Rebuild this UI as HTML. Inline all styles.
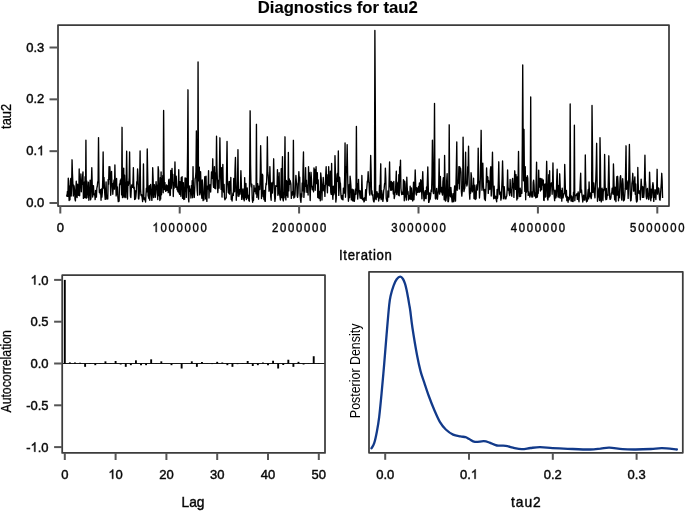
<!DOCTYPE html>
<html><head><meta charset="utf-8"><title>Diagnostics for tau2</title>
<style>html,body{margin:0;padding:0;background:#fff;width:685px;height:511px;overflow:hidden}
svg{display:block;will-change:transform}text{font-family:"Liberation Sans", sans-serif;stroke:#111;stroke-width:0.45px}.h1{fill-opacity:0;stroke-opacity:0}.one{fill:#111;stroke:#111;stroke-width:0.45px;vector-effect:non-scaling-stroke}</style></head>
<body>
<svg width="685" height="511" viewBox="0 0 685 511" font-family='"Liberation Sans", sans-serif'>
<rect width="685" height="511" fill="#fff"/>
<text style="stroke-width:0.15px" x="337.80" y="13.20" font-size="16" text-anchor="middle" fill="#000" font-weight="bold" textLength="160.00" lengthAdjust="spacingAndGlyphs">Diagnostics for tau2</text>
<polyline points="66.60,194.60 67.02,196.26 67.44,191.35 67.86,196.28 68.28,178.15 68.70,188.86 69.12,200.50 69.54,186.29 69.96,199.75 70.38,180.98 70.80,178.33 71.22,196.02 71.64,184.90 72.06,159.80 72.48,173.98 72.90,184.02 73.32,196.06 73.74,185.22 74.16,186.43 74.58,191.12 75.00,199.28 75.42,200.86 75.84,190.08 76.26,181.21 76.68,196.24 77.10,197.59 77.52,184.17 77.94,188.56 78.36,195.30 78.78,193.04 79.20,168.96 79.62,195.77 80.04,182.27 80.46,186.21 80.88,173.94 81.30,191.79 81.72,182.30 82.14,184.34 82.56,176.87 82.98,171.88 83.40,198.41 83.82,188.22 84.24,182.28 84.66,197.66 85.08,176.75 85.50,197.55 85.92,140.20 86.34,198.16 86.76,181.01 87.18,189.75 87.60,191.74 88.02,197.60 88.44,182.26 88.86,200.25 89.28,188.54 89.70,195.55 90.12,180.09 90.54,199.72 90.96,198.03 91.38,182.71 91.80,167.70 92.22,184.02 92.64,196.98 93.06,187.88 93.48,185.70 93.90,194.76 94.32,193.80 94.74,193.94 95.16,199.59 95.58,190.31 96.00,192.26 96.42,197.13 96.84,188.18 97.26,186.52 97.68,182.11 98.10,180.77 98.52,137.60 98.94,180.38 99.36,192.39 99.78,189.86 100.20,193.94 100.62,189.66 101.04,200.27 101.46,188.87 101.88,197.11 102.30,192.82 102.72,180.72 103.14,152.00 103.56,188.10 103.98,177.39 104.40,187.25 104.82,194.68 105.24,199.42 105.66,192.23 106.08,181.90 106.50,197.50 106.92,199.14 107.34,195.16 107.76,198.91 108.18,179.37 108.60,184.20 109.02,166.70 109.44,179.41 109.86,166.72 110.28,176.00 110.70,195.24 111.12,186.85 111.54,171.33 111.96,185.66 112.38,183.47 112.80,194.27 113.22,187.71 113.64,183.33 114.06,180.01 114.48,189.19 114.90,165.00 115.32,185.46 115.74,182.13 116.16,195.89 116.58,178.41 117.00,194.22 117.42,186.85 117.84,196.73 118.26,201.65 118.68,197.66 119.10,201.12 119.52,183.93 119.94,184.60 120.36,180.21 120.78,183.28 121.20,178.78 121.62,194.93 122.04,127.30 122.46,197.52 122.88,195.50 123.30,180.81 123.72,168.09 124.14,197.59 124.56,175.26 124.98,189.67 125.40,196.02 125.82,197.46 126.24,177.19 126.66,151.20 127.08,183.57 127.50,198.97 127.92,182.00 128.34,185.28 128.76,183.13 129.18,177.67 129.60,152.00 130.02,182.91 130.44,196.19 130.86,197.57 131.28,189.26 131.70,184.84 132.12,186.91 132.54,187.36 132.96,182.80 133.38,167.58 133.80,188.53 134.22,187.26 134.64,199.46 135.06,190.67 135.48,198.95 135.90,196.36 136.32,191.42 136.74,181.75 137.16,183.87 137.58,169.00 138.00,175.86 138.42,198.38 138.84,199.01 139.26,193.77 139.68,178.98 140.10,151.00 140.52,189.04 140.94,194.87 141.36,195.84 141.78,194.80 142.20,198.25 142.62,201.56 143.04,194.46 143.46,164.00 143.88,198.33 144.30,199.69 144.72,197.96 145.14,199.17 145.56,201.99 145.98,194.61 146.40,188.15 146.82,191.82 147.24,149.00 147.66,172.62 148.08,195.63 148.50,196.98 148.92,198.46 149.34,185.78 149.76,200.29 150.18,192.97 150.60,184.52 151.02,190.14 151.44,193.84 151.86,200.38 152.28,192.26 152.70,167.70 153.12,179.17 153.54,197.54 153.96,188.98 154.38,184.66 154.80,190.51 155.22,197.39 155.64,193.07 156.06,181.66 156.48,188.14 156.90,185.10 157.32,193.60 157.74,199.55 158.16,166.72 158.58,170.70 159.00,195.76 159.42,186.56 159.84,200.50 160.26,177.64 160.68,199.05 161.10,172.04 161.52,194.80 161.94,179.53 162.36,183.84 162.78,175.47 163.20,192.83 163.62,110.50 164.04,171.81 164.46,189.49 164.88,182.36 165.30,188.73 165.72,191.34 166.14,190.55 166.56,184.86 166.98,190.28 167.40,186.65 167.82,185.82 168.24,192.67 168.66,180.19 169.08,179.16 169.50,190.16 169.92,195.46 170.34,195.14 170.76,170.46 171.18,188.57 171.60,185.02 172.02,168.50 172.44,178.26 172.86,174.49 173.28,196.54 173.70,182.58 174.12,188.27 174.54,181.01 174.96,162.00 175.38,183.93 175.80,187.34 176.22,176.24 176.64,183.82 177.06,189.73 177.48,187.16 177.90,191.69 178.32,191.96 178.74,169.67 179.16,192.94 179.58,194.25 180.00,181.78 180.42,184.01 180.84,196.31 181.26,177.60 181.68,187.71 182.10,176.57 182.52,198.27 182.94,195.87 183.36,182.63 183.78,199.47 184.20,197.99 184.62,199.12 185.04,177.97 185.46,191.13 185.88,178.14 186.30,197.42 186.72,189.34 187.14,186.52 187.56,152.59 187.98,89.80 188.40,197.42 188.82,201.86 189.24,185.84 189.66,191.11 190.08,191.32 190.50,189.22 190.92,198.01 191.34,185.56 191.76,194.91 192.18,180.57 192.60,197.70 193.02,166.60 193.44,190.26 193.86,191.56 194.28,197.45 194.70,188.80 195.12,178.81 195.54,177.54 195.96,171.62 196.38,130.90 196.80,182.53 197.22,190.92 197.64,195.30 198.06,61.90 198.48,180.88 198.90,169.50 199.32,167.08 199.74,194.78 200.16,192.62 200.58,171.79 201.00,185.04 201.42,192.03 201.84,198.31 202.26,179.86 202.68,187.82 203.10,200.68 203.52,198.70 203.94,199.76 204.36,184.90 204.78,176.70 205.20,186.92 205.62,198.87 206.04,176.14 206.46,197.38 206.88,201.38 207.30,186.23 207.72,189.09 208.14,185.78 208.56,170.68 208.98,198.07 209.40,184.62 209.82,189.41 210.24,184.98 210.66,192.08 211.08,182.39 211.50,171.85 211.92,178.44 212.34,175.47 212.76,158.80 213.18,183.67 213.60,187.34 214.02,181.59 214.44,166.72 214.86,188.44 215.28,173.15 215.70,188.77 216.12,174.14 216.54,136.20 216.96,167.78 217.38,179.41 217.80,192.66 218.22,186.38 218.64,180.08 219.06,188.13 219.48,166.72 219.90,137.80 220.32,166.72 220.74,178.87 221.16,189.35 221.58,167.72 222.00,197.11 222.42,182.24 222.84,164.40 223.26,186.11 223.68,192.12 224.10,184.43 224.52,197.62 224.94,199.83 225.36,198.71 225.78,198.36 226.20,197.73 226.62,168.70 227.04,141.50 227.46,181.02 227.88,186.07 228.30,192.52 228.72,193.03 229.14,181.34 229.56,194.14 229.98,181.76 230.40,189.78 230.82,177.39 231.24,199.56 231.66,198.11 232.08,200.98 232.50,196.31 232.92,193.05 233.34,195.38 233.76,178.42 234.18,180.83 234.60,191.71 235.02,169.12 235.44,157.50 235.86,179.78 236.28,200.25 236.70,191.58 237.12,196.06 237.54,180.04 237.96,149.70 238.38,189.43 238.80,196.41 239.22,194.03 239.64,189.38 240.06,194.13 240.48,184.80 240.90,170.70 241.32,182.97 241.74,199.39 242.16,190.38 242.58,196.91 243.00,188.85 243.42,199.12 243.84,196.86 244.26,200.83 244.68,177.60 245.10,197.54 245.52,195.51 245.94,183.51 246.36,199.50 246.78,192.30 247.20,187.98 247.62,196.04 248.04,198.49 248.46,195.54 248.88,200.67 249.30,201.16 249.72,168.81 250.14,110.80 250.56,164.49 250.98,183.96 251.40,186.85 251.82,184.11 252.24,198.59 252.66,202.29 253.08,198.71 253.50,200.32 253.92,185.47 254.34,189.17 254.76,191.58 255.18,189.03 255.60,187.86 256.02,193.85 256.44,124.30 256.86,197.44 257.28,189.42 257.70,183.75 258.12,190.41 258.54,199.14 258.96,186.06 259.38,189.69 259.80,189.20 260.22,175.25 260.64,145.60 261.06,166.42 261.48,198.53 261.90,191.18 262.32,174.17 262.74,175.23 263.16,196.47 263.58,195.37 264.00,199.55 264.42,190.32 264.84,201.02 265.26,201.36 265.68,187.45 266.10,183.27 266.52,184.54 266.94,171.77 267.36,136.80 267.78,172.21 268.20,175.42 268.62,181.76 269.04,191.20 269.46,186.36 269.88,166.60 270.30,181.81 270.72,196.69 271.14,200.29 271.56,182.92 271.98,193.14 272.40,193.09 272.82,182.29 273.24,181.53 273.66,158.80 274.08,181.27 274.50,194.60 274.92,201.44 275.34,198.18 275.76,185.73 276.18,186.24 276.60,186.24 277.02,186.11 277.44,169.70 277.86,195.36 278.28,177.34 278.70,193.92 279.12,172.73 279.54,194.11 279.96,196.40 280.38,200.04 280.80,195.01 281.22,168.74 281.64,197.64 282.06,177.89 282.48,156.60 282.90,199.43 283.32,200.92 283.74,192.42 284.16,197.82 284.58,171.43 285.00,136.80 285.42,192.25 285.84,199.90 286.26,180.39 286.68,195.58 287.10,181.32 287.52,193.91 287.94,197.33 288.36,152.50 288.78,190.91 289.20,178.63 289.62,184.29 290.04,180.32 290.46,181.83 290.88,184.21 291.30,198.42 291.72,193.42 292.14,195.40 292.56,191.38 292.98,194.00 293.40,140.30 293.82,198.00 294.24,194.68 294.66,197.07 295.08,194.22 295.50,183.06 295.92,175.40 296.34,182.08 296.76,183.51 297.18,195.88 297.60,197.34 298.02,193.29 298.44,180.43 298.86,171.60 299.28,179.80 299.70,177.10 300.12,196.02 300.54,200.22 300.96,202.25 301.38,193.56 301.80,196.94 302.22,182.96 302.64,190.90 303.06,168.37 303.48,151.90 303.90,197.37 304.32,190.27 304.74,192.19 305.16,182.20 305.58,167.60 306.00,186.32 306.42,180.12 306.84,192.23 307.26,186.37 307.68,184.95 308.10,194.97 308.52,166.72 308.94,180.91 309.36,172.63 309.78,190.00 310.20,200.59 310.62,182.76 311.04,172.30 311.46,179.05 311.88,186.65 312.30,189.75 312.72,186.58 313.14,186.15 313.56,191.84 313.98,167.87 314.40,170.70 314.82,169.54 315.24,190.26 315.66,172.72 316.08,166.72 316.50,183.56 316.92,178.23 317.34,172.74 317.76,197.54 318.18,179.82 318.60,194.61 319.02,198.52 319.44,195.61 319.86,191.08 320.28,200.72 320.70,172.86 321.12,177.00 321.54,183.60 321.96,200.01 322.38,184.10 322.80,190.31 323.22,177.42 323.64,185.70 324.06,191.04 324.48,185.94 324.90,196.39 325.32,184.80 325.74,174.50 326.16,166.72 326.58,184.06 327.00,185.02 327.42,192.76 327.84,174.80 328.26,185.53 328.68,166.72 329.10,184.98 329.52,178.38 329.94,186.23 330.36,171.14 330.78,192.34 331.20,194.43 331.62,163.50 332.04,189.61 332.46,193.97 332.88,199.25 333.30,186.10 333.72,194.76 334.14,193.23 334.56,192.15 334.98,155.60 335.40,171.74 335.82,202.08 336.24,198.73 336.66,181.06 337.08,174.59 337.50,173.26 337.92,181.55 338.34,151.00 338.76,195.41 339.18,189.46 339.60,177.23 340.02,182.11 340.44,183.40 340.86,193.94 341.28,197.72 341.70,199.08 342.12,195.35 342.54,199.26 342.96,199.88 343.38,188.25 343.80,190.11 344.22,193.18 344.64,178.23 345.06,143.00 345.48,197.20 345.90,186.48 346.32,166.72 346.74,166.06 347.16,144.60 347.58,172.82 348.00,192.21 348.42,201.25 348.84,197.09 349.26,184.43 349.68,197.54 350.10,176.22 350.52,180.62 350.94,186.04 351.36,199.90 351.78,190.12 352.20,189.16 352.62,200.83 353.04,198.40 353.46,189.80 353.88,201.09 354.30,201.38 354.72,198.09 355.14,191.66 355.56,188.95 355.98,194.20 356.40,126.40 356.82,190.24 357.24,183.35 357.66,199.10 358.08,193.78 358.50,179.38 358.92,191.51 359.34,190.43 359.76,194.54 360.18,198.06 360.60,190.81 361.02,197.35 361.44,198.68 361.86,175.40 362.28,190.15 362.70,199.74 363.12,199.35 363.54,198.26 363.96,201.90 364.38,201.19 364.80,197.31 365.22,197.73 365.64,189.65 366.06,200.40 366.48,191.80 366.90,186.64 367.32,181.24 367.74,180.72 368.16,171.70 368.58,182.25 369.00,182.48 369.42,192.56 369.84,195.10 370.26,175.98 370.68,155.40 371.10,171.05 371.52,194.05 371.94,190.68 372.36,195.34 372.78,194.62 373.20,199.34 373.62,201.28 374.04,201.98 374.46,198.94 374.88,30.50 375.30,104.70 375.72,198.78 376.14,199.65 376.56,194.83 376.98,191.74 377.40,196.95 377.82,193.35 378.24,195.88 378.66,201.00 379.08,197.96 379.50,185.49 379.92,197.95 380.34,178.24 380.76,163.80 381.18,199.65 381.60,190.34 382.02,193.31 382.44,196.91 382.86,201.42 383.28,198.36 383.70,190.53 384.12,188.67 384.54,183.94 384.96,182.69 385.38,168.10 385.80,177.96 386.22,198.32 386.64,200.04 387.06,201.46 387.48,201.12 387.90,190.96 388.32,193.42 388.74,197.11 389.16,178.68 389.58,162.00 390.00,184.40 390.42,187.06 390.84,190.42 391.26,181.54 391.68,189.98 392.10,182.39 392.52,182.84 392.94,188.37 393.36,193.96 393.78,181.45 394.20,198.56 394.62,196.48 395.04,192.88 395.46,192.02 395.88,181.81 396.30,171.24 396.72,194.48 397.14,182.21 397.56,185.82 397.98,190.15 398.40,195.17 398.82,174.68 399.24,195.77 399.66,166.72 400.08,173.38 400.50,160.10 400.92,188.28 401.34,192.26 401.76,194.58 402.18,192.40 402.60,192.03 403.02,194.22 403.44,179.56 403.86,181.70 404.28,200.76 404.70,181.11 405.12,183.91 405.54,196.52 405.96,197.74 406.38,200.06 406.80,177.20 407.22,187.29 407.64,194.07 408.06,191.61 408.48,200.04 408.90,195.62 409.32,198.86 409.74,198.89 410.16,186.27 410.58,191.97 411.00,199.42 411.42,187.91 411.84,193.44 412.26,198.99 412.68,200.96 413.10,195.74 413.52,182.12 413.94,199.72 414.36,192.25 414.78,186.72 415.20,170.00 415.62,183.03 416.04,193.79 416.46,195.05 416.88,187.63 417.30,189.93 417.72,192.24 418.14,191.17 418.56,186.50 418.98,192.32 419.40,183.02 419.82,192.02 420.24,191.74 420.66,179.79 421.08,180.84 421.50,187.78 421.92,198.73 422.34,181.69 422.76,171.70 423.18,185.75 423.60,194.74 424.02,200.78 424.44,198.25 424.86,192.47 425.28,190.76 425.70,198.54 426.12,198.64 426.54,186.96 426.96,194.43 427.38,180.23 427.80,167.00 428.22,184.65 428.64,202.37 429.06,202.19 429.48,192.89 429.90,199.83 430.32,198.53 430.74,195.07 431.16,189.87 431.58,191.38 432.00,175.29 432.42,140.20 432.84,166.66 433.26,192.87 433.68,193.57 434.10,165.24 434.52,103.50 434.94,185.09 435.36,198.53 435.78,198.92 436.20,196.51 436.62,188.40 437.04,196.61 437.46,199.20 437.88,194.12 438.30,191.04 438.72,184.87 439.14,159.00 439.56,194.06 439.98,191.37 440.40,176.43 440.82,189.12 441.24,191.99 441.66,187.49 442.08,193.06 442.50,195.09 442.92,181.90 443.34,177.70 443.76,188.61 444.18,199.79 444.60,155.50 445.02,180.91 445.44,201.01 445.86,200.55 446.28,197.71 446.70,180.42 447.12,173.60 447.54,191.87 447.96,201.68 448.38,201.64 448.80,198.27 449.22,124.80 449.64,192.19 450.06,195.50 450.48,196.80 450.90,187.47 451.32,193.01 451.74,198.55 452.16,201.85 452.58,201.77 453.00,193.56 453.42,200.80 453.84,201.74 454.26,191.08 454.68,185.85 455.10,196.72 455.52,201.09 455.94,185.84 456.36,166.67 456.78,142.00 457.20,190.27 457.62,180.20 458.04,183.41 458.46,181.80 458.88,166.72 459.30,189.01 459.72,166.72 460.14,172.70 460.56,168.21 460.98,172.39 461.40,191.49 461.82,196.16 462.24,191.40 462.66,186.65 463.08,137.10 463.50,166.38 463.92,191.56 464.34,189.61 464.76,188.15 465.18,183.37 465.60,152.20 466.02,183.19 466.44,181.76 466.86,185.96 467.28,184.00 467.70,166.72 468.12,168.49 468.54,146.20 468.96,175.85 469.38,192.38 469.80,199.19 470.22,188.20 470.64,193.35 471.06,172.74 471.48,176.30 471.90,190.10 472.32,191.84 472.74,185.65 473.16,190.62 473.58,178.29 474.00,198.60 474.42,194.50 474.84,185.19 475.26,199.56 475.68,192.53 476.10,198.72 476.52,187.23 476.94,184.74 477.36,190.01 477.78,180.16 478.20,148.10 478.62,180.11 479.04,182.06 479.46,197.99 479.88,191.58 480.30,179.18 480.72,159.47 481.14,130.30 481.56,169.92 481.98,190.23 482.40,181.94 482.82,163.20 483.24,181.87 483.66,190.40 484.08,191.81 484.50,199.11 484.92,189.40 485.34,200.57 485.76,193.06 486.18,184.99 486.60,168.00 487.02,182.06 487.44,176.46 487.86,177.34 488.28,193.44 488.70,180.76 489.12,189.58 489.54,187.37 489.96,189.10 490.38,170.16 490.80,166.72 491.22,196.09 491.64,187.58 492.06,170.92 492.48,152.20 492.90,179.10 493.32,194.70 493.74,198.73 494.16,186.22 494.58,197.48 495.00,198.25 495.42,196.14 495.84,197.27 496.26,199.82 496.68,201.73 497.10,189.38 497.52,198.23 497.94,193.94 498.36,179.93 498.78,161.80 499.20,184.46 499.62,194.08 500.04,194.73 500.46,192.23 500.88,200.12 501.30,198.21 501.72,188.31 502.14,178.50 502.56,161.00 502.98,177.12 503.40,198.71 503.82,195.25 504.24,186.69 504.66,193.59 505.08,198.88 505.50,198.11 505.92,198.84 506.34,196.55 506.76,196.14 507.18,189.31 507.60,170.00 508.02,186.61 508.44,190.24 508.86,188.90 509.28,193.62 509.70,195.47 510.12,179.53 510.54,188.40 510.96,192.13 511.38,193.18 511.80,196.28 512.22,180.62 512.64,178.42 513.06,187.91 513.48,183.69 513.90,197.41 514.32,182.47 514.74,170.80 515.16,177.34 515.58,189.41 516.00,174.56 516.42,187.39 516.84,199.98 517.26,176.93 517.68,198.54 518.10,178.92 518.52,151.50 518.94,186.99 519.36,196.59 519.78,192.51 520.20,188.23 520.62,196.45 521.04,191.00 521.46,189.96 521.88,193.28 522.30,144.80 522.72,65.00 523.14,139.80 523.56,180.83 523.98,129.30 524.40,175.89 524.82,191.38 525.24,166.72 525.66,199.78 526.08,177.32 526.50,192.20 526.92,190.14 527.34,175.79 527.76,178.34 528.18,195.40 528.60,191.71 529.02,194.20 529.44,194.71 529.86,197.18 530.28,194.88 530.70,97.00 531.12,193.76 531.54,195.35 531.96,197.09 532.38,191.68 532.80,196.81 533.22,182.28 533.64,180.20 534.06,185.18 534.48,195.28 534.90,196.30 535.32,192.77 535.74,197.86 536.16,180.12 536.58,162.20 537.00,197.39 537.42,196.47 537.84,191.27 538.26,193.25 538.68,170.12 539.10,186.56 539.52,187.05 539.94,178.50 540.36,190.99 540.78,178.45 541.20,185.20 541.62,189.72 542.04,178.88 542.46,185.15 542.88,180.84 543.30,180.03 543.72,200.17 544.14,200.47 544.56,185.07 544.98,183.87 545.40,197.06 545.82,196.36 546.24,181.99 546.66,161.30 547.08,178.74 547.50,198.50 547.92,199.97 548.34,194.18 548.76,174.80 549.18,197.07 549.60,170.68 550.02,195.88 550.44,186.12 550.86,185.39 551.28,182.94 551.70,183.03 552.12,194.33 552.54,183.71 552.96,162.90 553.38,186.59 553.80,191.02 554.22,196.31 554.64,200.61 555.06,190.25 555.48,196.12 555.90,197.95 556.32,195.65 556.74,179.46 557.16,169.10 557.58,186.16 558.00,196.99 558.42,189.00 558.84,185.51 559.26,197.80 559.68,173.80 560.10,183.93 560.52,194.66 560.94,198.25 561.36,190.79 561.78,201.16 562.20,188.13 562.62,194.68 563.04,197.80 563.46,195.19 563.88,193.78 564.30,193.10 564.72,164.40 565.14,179.51 565.56,195.45 565.98,197.17 566.40,190.34 566.82,200.64 567.24,196.35 567.66,198.02 568.08,202.22 568.50,197.50 568.92,200.09 569.34,199.11 569.76,193.60 570.18,103.90 570.60,195.11 571.02,201.07 571.44,195.99 571.86,196.71 572.28,201.22 572.70,198.46 573.12,201.55 573.54,192.13 573.96,192.89 574.38,125.20 574.80,200.70 575.22,195.34 575.64,195.20 576.06,195.08 576.48,195.50 576.90,193.78 577.32,199.44 577.74,196.78 578.16,191.90 578.58,199.38 579.00,201.73 579.42,193.81 579.84,192.49 580.26,181.50 580.68,173.20 581.10,192.30 581.52,189.92 581.94,194.72 582.36,197.63 582.78,202.01 583.20,197.91 583.62,195.21 584.04,199.94 584.46,200.02 584.88,199.97 585.30,155.00 585.72,183.25 586.14,196.69 586.56,201.91 586.98,200.27 587.40,201.06 587.82,193.89 588.24,189.48 588.66,198.89 589.08,182.01 589.50,193.91 589.92,196.84 590.34,192.82 590.76,196.84 591.18,198.66 591.60,195.45 592.02,105.50 592.44,144.55 592.86,192.40 593.28,185.17 593.70,182.87 594.12,191.36 594.54,194.78 594.96,197.83 595.38,187.12 595.80,179.42 596.22,166.27 596.64,143.30 597.06,179.41 597.48,201.26 597.90,197.29 598.32,197.13 598.74,189.11 599.16,187.58 599.58,200.49 600.00,137.70 600.42,161.37 600.84,199.67 601.26,201.89 601.68,196.52 602.10,188.24 602.52,195.85 602.94,200.46 603.36,189.45 603.78,190.75 604.20,186.83 604.62,154.40 605.04,180.25 605.46,196.57 605.88,199.70 606.30,188.33 606.72,199.23 607.14,195.07 607.56,194.57 607.98,195.40 608.40,178.12 608.82,155.80 609.24,180.55 609.66,196.90 610.08,199.38 610.50,199.14 610.92,197.76 611.34,193.02 611.76,192.84 612.18,188.16 612.60,189.98 613.02,194.22 613.44,163.90 613.86,177.53 614.28,193.89 614.70,199.83 615.12,187.17 615.54,196.11 615.96,201.59 616.38,187.16 616.80,176.69 617.22,195.00 617.64,176.30 618.06,183.40 618.48,200.80 618.90,193.25 619.32,197.79 619.74,188.63 620.16,177.65 620.58,175.58 621.00,180.80 621.42,198.01 621.84,200.05 622.26,187.24 622.68,178.70 623.10,184.00 623.52,200.86 623.94,197.53 624.36,200.06 624.78,194.40 625.20,188.41 625.62,168.50 626.04,145.80 626.46,189.27 626.88,180.73 627.30,182.28 627.72,186.12 628.14,198.40 628.56,187.07 628.98,166.74 629.40,144.40 629.82,170.37 630.24,194.89 630.66,200.91 631.08,200.38 631.50,194.41 631.92,183.30 632.34,180.86 632.76,173.30 633.18,181.55 633.60,191.16 634.02,190.87 634.44,182.40 634.86,176.84 635.28,194.35 635.70,184.02 636.12,198.29 636.54,201.99 636.96,201.71 637.38,199.76 637.80,167.40 638.22,184.07 638.64,193.15 639.06,192.94 639.48,193.82 639.90,190.76 640.32,199.84 640.74,188.03 641.16,179.10 641.58,185.67 642.00,187.52 642.42,197.43 642.84,186.63 643.26,187.79 643.68,197.42 644.10,192.93 644.52,177.40 644.94,155.20 645.36,180.58 645.78,185.62 646.20,196.35 646.62,198.78 647.04,190.54 647.46,188.45 647.88,195.13 648.30,198.18 648.72,199.56 649.14,192.54 649.56,172.10 649.98,183.57 650.40,198.16 650.82,200.73 651.24,189.17 651.66,197.74 652.08,193.84 652.50,186.33 652.92,182.70 653.34,186.19 653.76,201.43 654.18,194.75 654.60,197.39 655.02,189.64 655.44,194.77 655.86,199.52 656.28,190.56 656.70,189.09 657.12,169.30 657.54,194.15 657.96,189.12 658.38,187.98 658.80,188.38 659.22,194.53 659.64,199.60 660.06,200.24 660.48,194.61 660.90,188.72 661.32,182.94 661.74,173.30 662.16,181.00 662.58,197.90" fill="none" stroke="#000" stroke-width="1.35" stroke-linejoin="round"/>
<rect x="58.00" y="25.00" width="611.00" height="181.00" fill="none" stroke="#3c3c3c" stroke-width="1.75" stroke-linejoin="round"/>
<line x1="49.5" y1="203.00" x2="58.00" y2="203.00" stroke="#555555" stroke-width="2.0"/>
<text x="44.30" y="207.00" font-size="13" text-anchor="end" fill="#000">0.0</text>
<line x1="49.5" y1="151.17" x2="58.00" y2="151.17" stroke="#555555" stroke-width="2.0"/>
<text x="44.30" y="155.17" font-size="13" text-anchor="end" fill="#000">0.<tspan class="h1">1</tspan></text>
<line x1="49.5" y1="99.34" x2="58.00" y2="99.34" stroke="#555555" stroke-width="2.0"/>
<text x="44.30" y="103.34" font-size="13" text-anchor="end" fill="#000">0.2</text>
<line x1="49.5" y1="47.51" x2="58.00" y2="47.51" stroke="#555555" stroke-width="2.0"/>
<text x="44.30" y="51.51" font-size="13" text-anchor="end" fill="#000">0.3</text>
<line x1="60.30" y1="206.00" x2="60.30" y2="213.5" stroke="#555555" stroke-width="2.0"/>
<text x="60.30" y="232.00" font-size="13" text-anchor="middle" fill="#000">0</text>
<line x1="179.70" y1="206.00" x2="179.70" y2="213.5" stroke="#555555" stroke-width="2.0"/>
<text x="0" y="0" font-size="13" text-anchor="middle" fill="#000" textLength="62.53" lengthAdjust="spacing" transform="translate(179.70 232.00) scale(0.870 1)"><tspan class="h1">1</tspan>000000</text>
<line x1="299.10" y1="206.00" x2="299.10" y2="213.5" stroke="#555555" stroke-width="2.0"/>
<text x="0" y="0" font-size="13" text-anchor="middle" fill="#000" textLength="62.53" lengthAdjust="spacing" transform="translate(299.10 232.00) scale(0.870 1)">2000000</text>
<line x1="418.50" y1="206.00" x2="418.50" y2="213.5" stroke="#555555" stroke-width="2.0"/>
<text x="0" y="0" font-size="13" text-anchor="middle" fill="#000" textLength="62.53" lengthAdjust="spacing" transform="translate(418.50 232.00) scale(0.870 1)">3000000</text>
<line x1="537.90" y1="206.00" x2="537.90" y2="213.5" stroke="#555555" stroke-width="2.0"/>
<text x="0" y="0" font-size="13" text-anchor="middle" fill="#000" textLength="62.53" lengthAdjust="spacing" transform="translate(537.90 232.00) scale(0.870 1)">4000000</text>
<line x1="657.30" y1="206.00" x2="657.30" y2="213.5" stroke="#555555" stroke-width="2.0"/>
<text x="0" y="0" font-size="13" text-anchor="middle" fill="#000" textLength="62.53" lengthAdjust="spacing" transform="translate(657.30 232.00) scale(0.870 1)">5000000</text>
<text x="0" y="0" font-size="14.6" text-anchor="middle" fill="#000" textLength="58.67" lengthAdjust="spacing" transform="translate(365.40 259.50) scale(0.900 1)">Iteration</text>
<text x="11.00" y="116.40" font-size="14.5" text-anchor="middle" fill="#000" textLength="25.00" lengthAdjust="spacingAndGlyphs" transform="rotate(-90 11.00 116.40)" style="stroke-width:0.3px">tau2</text>
<line x1="62.20" y1="363.50" x2="325.00" y2="363.50" stroke="#1a1a1a" stroke-width="1.2"/>
<line x1="64.80" y1="363.50" x2="64.80" y2="279.90" stroke="#000" stroke-width="1.9"/>
<line x1="69.88" y1="363.50" x2="69.88" y2="362.41" stroke="#000" stroke-width="1.9"/>
<line x1="74.96" y1="363.50" x2="74.96" y2="362.50" stroke="#000" stroke-width="1.9"/>
<line x1="80.04" y1="363.50" x2="80.04" y2="362.75" stroke="#000" stroke-width="1.9"/>
<line x1="85.12" y1="363.50" x2="85.12" y2="366.84" stroke="#000" stroke-width="1.9"/>
<line x1="90.20" y1="363.50" x2="90.20" y2="364.00" stroke="#000" stroke-width="1.9"/>
<line x1="95.28" y1="363.50" x2="95.28" y2="365.17" stroke="#000" stroke-width="1.9"/>
<line x1="100.36" y1="363.50" x2="100.36" y2="363.00" stroke="#000" stroke-width="1.9"/>
<line x1="105.44" y1="363.50" x2="105.44" y2="361.33" stroke="#000" stroke-width="1.9"/>
<line x1="110.52" y1="363.50" x2="110.52" y2="363.08" stroke="#000" stroke-width="1.9"/>
<line x1="115.60" y1="363.50" x2="115.60" y2="360.99" stroke="#000" stroke-width="1.9"/>
<line x1="120.68" y1="363.50" x2="120.68" y2="364.50" stroke="#000" stroke-width="1.9"/>
<line x1="125.76" y1="363.50" x2="125.76" y2="366.84" stroke="#000" stroke-width="1.9"/>
<line x1="130.84" y1="363.50" x2="130.84" y2="365.17" stroke="#000" stroke-width="1.9"/>
<line x1="135.92" y1="363.50" x2="135.92" y2="360.32" stroke="#000" stroke-width="1.9"/>
<line x1="141.00" y1="363.50" x2="141.00" y2="365.17" stroke="#000" stroke-width="1.9"/>
<line x1="146.08" y1="363.50" x2="146.08" y2="365.17" stroke="#000" stroke-width="1.9"/>
<line x1="151.16" y1="363.50" x2="151.16" y2="359.32" stroke="#000" stroke-width="1.9"/>
<line x1="156.24" y1="363.50" x2="156.24" y2="363.85" stroke="#000" stroke-width="1.9"/>
<line x1="161.32" y1="363.50" x2="161.32" y2="361.33" stroke="#000" stroke-width="1.9"/>
<line x1="166.40" y1="363.50" x2="166.40" y2="363.44" stroke="#000" stroke-width="1.9"/>
<line x1="171.48" y1="363.50" x2="171.48" y2="365.17" stroke="#000" stroke-width="1.9"/>
<line x1="176.56" y1="363.50" x2="176.56" y2="363.67" stroke="#000" stroke-width="1.9"/>
<line x1="181.64" y1="363.50" x2="181.64" y2="368.52" stroke="#000" stroke-width="1.9"/>
<line x1="186.72" y1="363.50" x2="186.72" y2="363.36" stroke="#000" stroke-width="1.9"/>
<line x1="191.80" y1="363.50" x2="191.80" y2="361.33" stroke="#000" stroke-width="1.9"/>
<line x1="196.88" y1="363.50" x2="196.88" y2="366.84" stroke="#000" stroke-width="1.9"/>
<line x1="201.96" y1="363.50" x2="201.96" y2="362.00" stroke="#000" stroke-width="1.9"/>
<line x1="207.04" y1="363.50" x2="207.04" y2="363.33" stroke="#000" stroke-width="1.9"/>
<line x1="212.12" y1="363.50" x2="212.12" y2="364.08" stroke="#000" stroke-width="1.9"/>
<line x1="217.20" y1="363.50" x2="217.20" y2="361.83" stroke="#000" stroke-width="1.9"/>
<line x1="222.28" y1="363.50" x2="222.28" y2="362.50" stroke="#000" stroke-width="1.9"/>
<line x1="227.36" y1="363.50" x2="227.36" y2="365.17" stroke="#000" stroke-width="1.9"/>
<line x1="232.44" y1="363.50" x2="232.44" y2="366.84" stroke="#000" stroke-width="1.9"/>
<line x1="237.52" y1="363.50" x2="237.52" y2="364.15" stroke="#000" stroke-width="1.9"/>
<line x1="242.60" y1="363.50" x2="242.60" y2="363.05" stroke="#000" stroke-width="1.9"/>
<line x1="247.68" y1="363.50" x2="247.68" y2="360.99" stroke="#000" stroke-width="1.9"/>
<line x1="252.76" y1="363.50" x2="252.76" y2="366.01" stroke="#000" stroke-width="1.9"/>
<line x1="257.84" y1="363.50" x2="257.84" y2="365.17" stroke="#000" stroke-width="1.9"/>
<line x1="262.92" y1="363.50" x2="262.92" y2="362.50" stroke="#000" stroke-width="1.9"/>
<line x1="268.00" y1="363.50" x2="268.00" y2="365.17" stroke="#000" stroke-width="1.9"/>
<line x1="273.08" y1="363.50" x2="273.08" y2="360.74" stroke="#000" stroke-width="1.9"/>
<line x1="278.16" y1="363.50" x2="278.16" y2="368.52" stroke="#000" stroke-width="1.9"/>
<line x1="283.24" y1="363.50" x2="283.24" y2="365.00" stroke="#000" stroke-width="1.9"/>
<line x1="288.32" y1="363.50" x2="288.32" y2="359.74" stroke="#000" stroke-width="1.9"/>
<line x1="293.40" y1="363.50" x2="293.40" y2="366.84" stroke="#000" stroke-width="1.9"/>
<line x1="298.48" y1="363.50" x2="298.48" y2="361.83" stroke="#000" stroke-width="1.9"/>
<line x1="303.56" y1="363.50" x2="303.56" y2="364.50" stroke="#000" stroke-width="1.9"/>
<line x1="308.64" y1="363.50" x2="308.64" y2="363.82" stroke="#000" stroke-width="1.9"/>
<line x1="313.72" y1="363.50" x2="313.72" y2="356.23" stroke="#000" stroke-width="1.9"/>
<line x1="318.80" y1="363.50" x2="318.80" y2="363.86" stroke="#000" stroke-width="1.9"/>
<rect x="62.20" y="275.20" width="262.80" height="177.70" fill="none" stroke="#3c3c3c" stroke-width="1.75" stroke-linejoin="round"/>
<line x1="54.1" y1="279.90" x2="62.20" y2="279.90" stroke="#555555" stroke-width="2.0"/>
<text x="48.60" y="284.50" font-size="13" text-anchor="end" fill="#000"><tspan class="h1">1</tspan>.0</text>
<line x1="54.1" y1="321.70" x2="62.20" y2="321.70" stroke="#555555" stroke-width="2.0"/>
<text x="48.60" y="326.30" font-size="13" text-anchor="end" fill="#000">0.5</text>
<line x1="54.1" y1="363.50" x2="62.20" y2="363.50" stroke="#555555" stroke-width="2.0"/>
<text x="48.60" y="368.10" font-size="13" text-anchor="end" fill="#000">0.0</text>
<line x1="54.1" y1="405.30" x2="62.20" y2="405.30" stroke="#555555" stroke-width="2.0"/>
<text x="48.60" y="409.90" font-size="13" text-anchor="end" fill="#000">-0.5</text>
<line x1="54.1" y1="447.10" x2="62.20" y2="447.10" stroke="#555555" stroke-width="2.0"/>
<text x="48.60" y="451.70" font-size="13" text-anchor="end" fill="#000">-<tspan class="h1">1</tspan>.0</text>
<line x1="64.80" y1="452.90" x2="64.80" y2="460" stroke="#555555" stroke-width="2.0"/>
<text x="64.80" y="478.80" font-size="13" text-anchor="middle" fill="#000">0</text>
<line x1="115.60" y1="452.90" x2="115.60" y2="460" stroke="#555555" stroke-width="2.0"/>
<text x="115.60" y="478.80" font-size="13" text-anchor="middle" fill="#000"><tspan class="h1">1</tspan>0</text>
<line x1="166.40" y1="452.90" x2="166.40" y2="460" stroke="#555555" stroke-width="2.0"/>
<text x="166.40" y="478.80" font-size="13" text-anchor="middle" fill="#000">20</text>
<line x1="217.20" y1="452.90" x2="217.20" y2="460" stroke="#555555" stroke-width="2.0"/>
<text x="217.20" y="478.80" font-size="13" text-anchor="middle" fill="#000">30</text>
<line x1="268.00" y1="452.90" x2="268.00" y2="460" stroke="#555555" stroke-width="2.0"/>
<text x="268.00" y="478.80" font-size="13" text-anchor="middle" fill="#000">40</text>
<line x1="318.80" y1="452.90" x2="318.80" y2="460" stroke="#555555" stroke-width="2.0"/>
<text x="318.80" y="478.80" font-size="13" text-anchor="middle" fill="#000">50</text>
<text x="0" y="0" font-size="15" text-anchor="middle" fill="#000" textLength="25.00" lengthAdjust="spacing" transform="translate(193.00 506.60) scale(0.920 1)">Lag</text>
<text x="11.00" y="371.30" font-size="15.5" text-anchor="middle" fill="#000" textLength="82.50" lengthAdjust="spacingAndGlyphs" transform="rotate(-90 11.00 371.30)" style="stroke-width:0.3px">Autocorrelation</text>
<path d="M371.50,448.30 C371.95,447.45 373.30,446.00 374.20,443.20 C375.10,440.40 376.07,435.90 376.90,431.50 C377.73,427.10 378.42,423.18 379.20,416.80 C379.98,410.42 380.77,402.03 381.60,393.20 C382.43,384.37 383.37,373.60 384.20,363.80 C385.03,354.00 385.77,344.20 386.60,334.40 C387.43,324.60 388.52,311.48 389.20,305.00 C389.88,298.52 389.95,298.78 390.70,295.50 C391.45,292.22 392.70,288.00 393.70,285.30 C394.70,282.60 395.60,280.73 396.70,279.30 C397.80,277.87 399.25,276.75 400.30,276.70 C401.35,276.65 402.22,277.83 403.00,279.00 C403.78,280.17 404.40,281.87 405.00,283.70 C405.60,285.53 406.08,287.65 406.60,290.00 C407.12,292.35 407.65,295.32 408.10,297.80 C408.55,300.28 408.93,302.70 409.30,304.90 C409.67,307.10 409.78,307.23 410.30,311.00 C410.82,314.77 411.28,320.17 412.40,327.50 C413.52,334.83 415.63,347.68 417.00,355.00 C418.37,362.32 419.40,366.83 420.60,371.40 C421.80,375.97 422.83,378.30 424.20,382.40 C425.57,386.50 427.12,391.40 428.80,396.00 C430.48,400.60 432.43,405.63 434.30,410.00 C436.17,414.37 438.08,418.95 440.00,422.20 C441.92,425.45 443.62,427.43 445.80,429.50 C447.98,431.57 450.67,433.45 453.10,434.60 C455.53,435.75 458.33,435.98 460.40,436.40 C462.47,436.82 464.03,436.67 465.50,437.10 C466.97,437.53 467.62,438.20 469.20,439.00 C470.78,439.80 472.57,441.53 475.00,441.90 C477.43,442.27 481.37,441.08 483.80,441.20 C486.23,441.32 487.42,441.88 489.60,442.60 C491.78,443.32 494.22,444.97 496.90,445.50 C499.58,446.03 503.02,445.43 505.70,445.80 C508.38,446.17 510.32,447.13 513.00,447.70 C515.68,448.27 518.88,449.15 521.80,449.20 C524.72,449.25 527.47,448.33 530.50,448.00 C533.53,447.67 536.33,447.18 540.00,447.20 C543.67,447.22 547.87,447.83 552.50,448.10 C557.13,448.37 561.60,448.57 567.80,448.80 C574.00,449.03 584.22,449.53 589.70,449.50 C595.18,449.47 597.42,448.90 600.70,448.60 C603.98,448.30 605.75,447.60 609.40,447.70 C613.05,447.80 618.22,448.90 622.60,449.20 C626.98,449.50 630.97,449.53 635.70,449.50 C640.43,449.47 646.62,449.23 651.00,449.00 C655.38,448.77 657.68,448.02 662.00,448.10 C666.32,448.18 674.42,449.27 676.90,449.50" fill="none" stroke="#123a8a" stroke-width="2.3" stroke-linecap="round" stroke-linejoin="round"/>
<rect x="369.00" y="271.80" width="313.80" height="181.00" fill="none" stroke="#3c3c3c" stroke-width="1.75" stroke-linejoin="round"/>
<line x1="385.20" y1="452.80" x2="385.20" y2="459.8" stroke="#555555" stroke-width="2.0"/>
<text x="385.20" y="478.80" font-size="13" text-anchor="middle" fill="#000">0.0</text>
<line x1="469.00" y1="452.80" x2="469.00" y2="459.8" stroke="#555555" stroke-width="2.0"/>
<text x="469.00" y="478.80" font-size="13" text-anchor="middle" fill="#000">0.<tspan class="h1">1</tspan></text>
<line x1="552.80" y1="452.80" x2="552.80" y2="459.8" stroke="#555555" stroke-width="2.0"/>
<text x="552.80" y="478.80" font-size="13" text-anchor="middle" fill="#000">0.2</text>
<line x1="636.60" y1="452.80" x2="636.60" y2="459.8" stroke="#555555" stroke-width="2.0"/>
<text x="636.60" y="478.80" font-size="13" text-anchor="middle" fill="#000">0.3</text>
<text x="0" y="0" font-size="15" text-anchor="middle" fill="#000" textLength="32.17" lengthAdjust="spacing" transform="translate(525.90 506.60) scale(0.920 1)">tau2</text>
<text x="360.50" y="370.90" font-size="14.2" text-anchor="middle" fill="#000" textLength="94.50" lengthAdjust="spacingAndGlyphs" transform="rotate(-90 360.50 370.90)" style="stroke-width:0px">Posterior Density</text>
<path class="one" transform="matrix(0.00635 0.00000 0.00000 -0.00635 37.066 155.170)" d="M763,0 L583,0 L583,1147 Q518,1085 412,1023 Q306,961 222,930 L222,1104 Q373,1175 486,1276 Q599,1377 646,1472 L763,1472 Z"/>
<path class="one" transform="matrix(0.00553 0.00000 0.00000 -0.00635 152.499 232.000)" d="M763,0 L583,0 L583,1147 Q518,1085 412,1023 Q306,961 222,930 L222,1104 Q373,1175 486,1276 Q599,1377 646,1472 L763,1472 Z"/>
<path class="one" transform="matrix(0.00635 0.00000 0.00000 -0.00635 30.522 284.500)" d="M763,0 L583,0 L583,1147 Q518,1085 412,1023 Q306,961 222,930 L222,1104 Q373,1175 486,1276 Q599,1377 646,1472 L763,1472 Z"/>
<path class="one" transform="matrix(0.00635 0.00000 0.00000 -0.00635 30.522 451.700)" d="M763,0 L583,0 L583,1147 Q518,1085 412,1023 Q306,961 222,930 L222,1104 Q373,1175 486,1276 Q599,1377 646,1472 L763,1472 Z"/>
<path class="one" transform="matrix(0.00635 0.00000 0.00000 -0.00635 108.366 478.800)" d="M763,0 L583,0 L583,1147 Q518,1085 412,1023 Q306,961 222,930 L222,1104 Q373,1175 486,1276 Q599,1377 646,1472 L763,1472 Z"/>
<path class="one" transform="matrix(0.00635 0.00000 0.00000 -0.00635 470.805 478.800)" d="M763,0 L583,0 L583,1147 Q518,1085 412,1023 Q306,961 222,930 L222,1104 Q373,1175 486,1276 Q599,1377 646,1472 L763,1472 Z"/>
</svg>
</body></html>
